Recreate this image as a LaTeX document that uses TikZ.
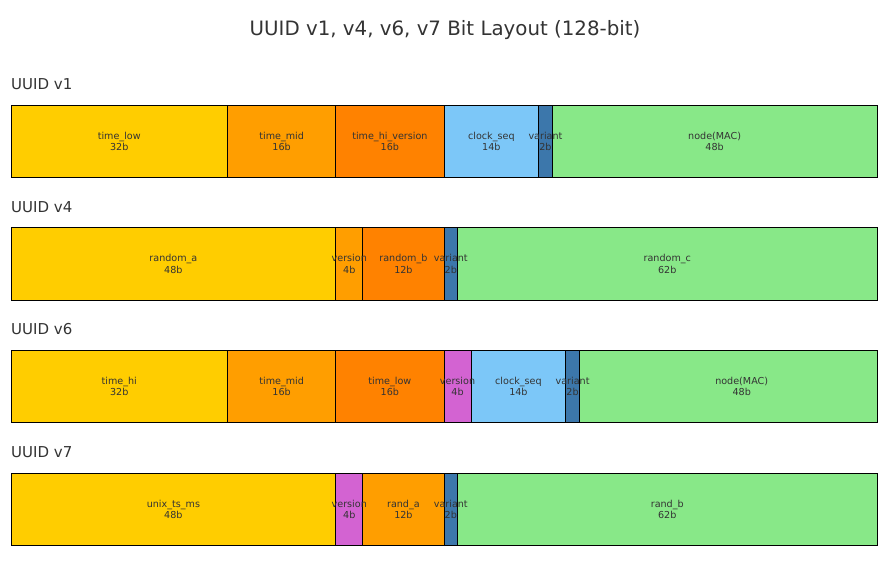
\documentclass[tikz,border=0pt]{standalone}
\usepackage{fontspec}
\setmainfont{DejaVu Sans}
\definecolor{cgold}{HTML}{FFCD00}
\definecolor{corange}{HTML}{FF9E00}
\definecolor{cdark}{HTML}{FF8200}
\definecolor{cblue}{HTML}{7CC7F8}
\definecolor{csteel}{HTML}{3C77AB}
\definecolor{cgreen}{HTML}{88E888}
\definecolor{corchid}{HTML}{D363D2}
\definecolor{ctext}{HTML}{333333}
\pgfdeclarelayer{bars}
\pgfsetlayers{bars,main}
\tikzset{
  segline/.style={draw=black, line width=0.9pt},
  seglabel/.style={align=center, text=ctext, inner sep=0pt, font=\fontsize{9.6}{11.2}\selectfont},
  rowlabel/.style={anchor=base west, text=ctext, inner sep=0pt, font=\fontsize{15}{18}\selectfont},
  titlelabel/.style={text=ctext, inner sep=0pt, font=\fontsize{19.8}{24}\selectfont}
}
% #1 name, #2 start bit, #3 width in bits, #4 colour, #5 text, #6 top y, #7 bits label, #8 label centre (bits)
\newcommand\segbox[8]{%
  \pgfmathsetmacro\xa{11+#2*6.765625}%
  \pgfmathsetmacro\xb{11+(#2+#3)*6.765625}%
  \pgfmathsetmacro\xm{11+#8*6.765625}%
  \pgfmathsetmacro\yb{#6+72.5}%
  \pgfmathsetmacro\ym{#6+36.25}%
  \begin{pgfonlayer}{bars}
  \draw[segline, fill=#4] (\xa,-#6) rectangle (\xb,-\yb);
  \end{pgfonlayer}
  \node[seglabel] (#1) at (\xm,-\ym) {#5\\#7b};
}
\begin{document}
\begin{tikzpicture}[x=1pt,y=1pt]
\useasboundingbox (0,0) rectangle (890,-562);
\node[titlelabel] (title) at (445,-30) {UUID v1, v4, v6, v7 Bit Layout (128-bit)};
% v1
\node[rowlabel] (l1) at (11,-89.5) {UUID v1};
\segbox{a1}{0}{32}{cgold}{time\_low}{105}{32}{16}
\segbox{a2}{32}{16}{corange}{time\_mid}{105}{16}{40}
\segbox{a3}{48}{16}{cdark}{time\_hi\_version}{105}{16}{56}
\segbox{a4}{64}{14}{cblue}{clock\_seq}{105}{14}{71}
\segbox{a5}{78}{2}{csteel}{variant}{105}{2}{79}
\segbox{a6}{80}{48}{cgreen}{node(MAC)}{105}{48}{104}
% v4
\node[rowlabel] (l4) at (11,-212.2) {UUID v4};
\segbox{b1}{0}{48}{cgold}{random\_a}{227.7}{48}{24}
\segbox{b2}{48}{4}{corange}{version}{227.7}{4}{50}
\segbox{b3}{52}{12}{cdark}{random\_b}{227.7}{12}{58}
\segbox{b4}{64}{2}{csteel}{variant}{227.7}{2}{65}
\segbox{b5}{66}{62}{cgreen}{random\_c}{227.7}{62}{97}
% v6
\node[rowlabel] (l6) at (11,-334.8) {UUID v6};
\segbox{c1}{0}{32}{cgold}{time\_hi}{350.3}{32}{16}
\segbox{c2}{32}{16}{corange}{time\_mid}{350.3}{16}{40}
\segbox{c3}{48}{16}{cdark}{time\_low}{350.3}{16}{56}
\segbox{c4}{64}{4}{corchid}{version}{350.3}{4}{66}
\segbox{c5}{68}{14}{cblue}{clock\_seq}{350.3}{14}{75}
\segbox{c6}{82}{2}{csteel}{variant}{350.3}{2}{83}
\segbox{c7}{84}{44}{cgreen}{node(MAC)}{350.3}{48}{108}
% v7
\node[rowlabel] (l7) at (11,-457.5) {UUID v7};
\segbox{d1}{0}{48}{cgold}{unix\_ts\_ms}{473}{48}{24}
\segbox{d2}{48}{4}{corchid}{version}{473}{4}{50}
\segbox{d3}{52}{12}{corange}{rand\_a}{473}{12}{58}
\segbox{d4}{64}{2}{csteel}{variant}{473}{2}{65}
\segbox{d5}{66}{62}{cgreen}{rand\_b}{473}{62}{97}
\end{tikzpicture}
\end{document}
